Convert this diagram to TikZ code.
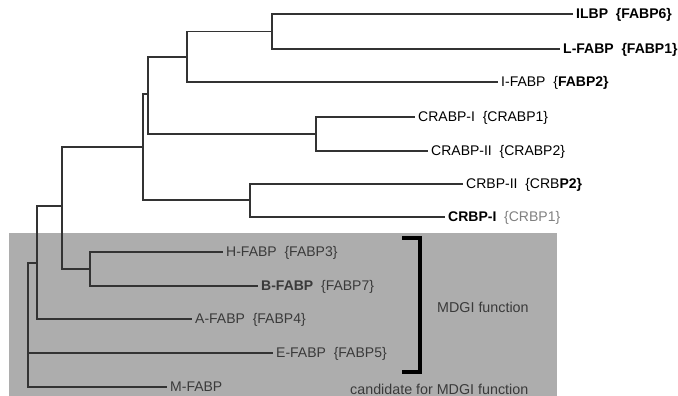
\documentclass[tikz,border=0pt]{standalone}
\usepackage{fontspec}
\setmainfont{Liberation Sans}
\usetikzlibrary{positioning}
\definecolor{boxgray}{HTML}{ADADAD}
\definecolor{linegray}{HTML}{333333}
\definecolor{textgray}{HTML}{3A3A3A}
\tikzset{
  br/.style={draw=linegray, line width=1.2pt},
  leaf/.style={anchor=west, inner sep=3pt, font=\fontsize{14}{16}\selectfont, text height=9pt, text depth=0pt},
  leafb/.style={leaf, font=\fontsize{14}{16}\selectfont\bfseries},
  leafg/.style={leaf, text=textgray},
  note/.style={font=\fontsize{14.3}{16}\selectfont, text=textgray, inner sep=1pt},
  bracket/.style={draw=black, line width=3.5pt},
}
\begin{document}
\begin{tikzpicture}[x=1pt,y=-1pt]
  \useasboundingbox (0,0) rectangle (678,396);
  % shaded region
  \fill[boxgray] (9,233) rectangle (557,396);

  % leaves
  \node[leafb] (ilbp) at (573,14) {ILBP\ \ \{FABP6\}};
  \node[leafb] (lfabp) at (560,49) {L-FABP\ \ \{FABP1\}};
  \node[leaf] (ifabp) at (498,82) {I-FABP\ \ \{\textbf{FABP2\}}};
  \node[leaf] (crabpi) at (415,117) {CRABP-I\ \ \{CRABP1\}};
  \node[leaf] (crabpii) at (428,151) {CRABP-II\ \ \{CRABP2\}};
  \node[leaf] (crbpii) at (463,184) {CRBP-II\ \ \{CRB\textbf{P2\}}};
  \node[leaf] (crbpi) at (445,217) {\textbf{CRBP-I}\ \ \textcolor{gray}{\{CRBP1\}}};
  \node[leafg] (hfabp) at (223,252) {H-FABP\ \ \{FABP3\}};
  \node[leafg] (bfabp) at (258,286) {\textbf{B-FABP}\ \ \{FABP7\}};
  \node[leafg] (afabp) at (192,319) {A-FABP\ \ \{FABP4\}};
  \node[leafg] (efabp) at (273,353) {E-FABP\ \ \{FABP5\}};
  \node[leafg] (mfabp) at (167,387) {M-FABP};

  % inner nodes
  \coordinate (n1) at (272,31.5);
  \coordinate (n2) at (187,57);
  \coordinate (n3) at (148,94);
  \coordinate (n4) at (316,134);
  \coordinate (n5) at (143,147);
  \coordinate (n6) at (250,200);
  \coordinate (n7) at (62,206);
  \coordinate (n8) at (90,269);
  \coordinate (n9) at (37,263);
  \coordinate (root) at (28,320);

  % branches
  \draw[br] (n1) |- (ilbp.west);
  \draw[br] (n1) |- (lfabp.west);
  \draw[br] (n2) |- (n1);
  \draw[br] (n2) |- (ifabp.west);
  \draw[br] (n3) |- (n2);
  \draw[br] (n3) |- (n4);
  \draw[br] (n4) |- (crabpi.west);
  \draw[br] (n4) |- (crabpii.west);
  \draw[br] (n5) |- (n3);
  \draw[br] (n5) |- (n6);
  \draw[br] (n6) |- (crbpii.west);
  \draw[br] (n6) |- (crbpi.west);
  \draw[br] (n7) |- (n5);
  \draw[br] (n7) |- (n8);
  \draw[br] (n8) |- (hfabp.west);
  \draw[br] (n8) |- (bfabp.west);
  \draw[br] (n9) |- (n7);
  \draw[br] (n9) |- (afabp.west);
  \draw[br] (root) |- (n9);
  \draw[br] (root) |- (efabp.west);
  \draw[br] (root) |- (mfabp.west);

  % bracket and notes
  \draw[bracket] (402,238) -- (420,238) -- (420,372) -- (402,372);
  \node[note, anchor=west] (mdgi) at (436,307) {MDGI function};
  \node[note, anchor=west] (cand) at (349,389) {candidate for MDGI function};
\end{tikzpicture}
\end{document}
